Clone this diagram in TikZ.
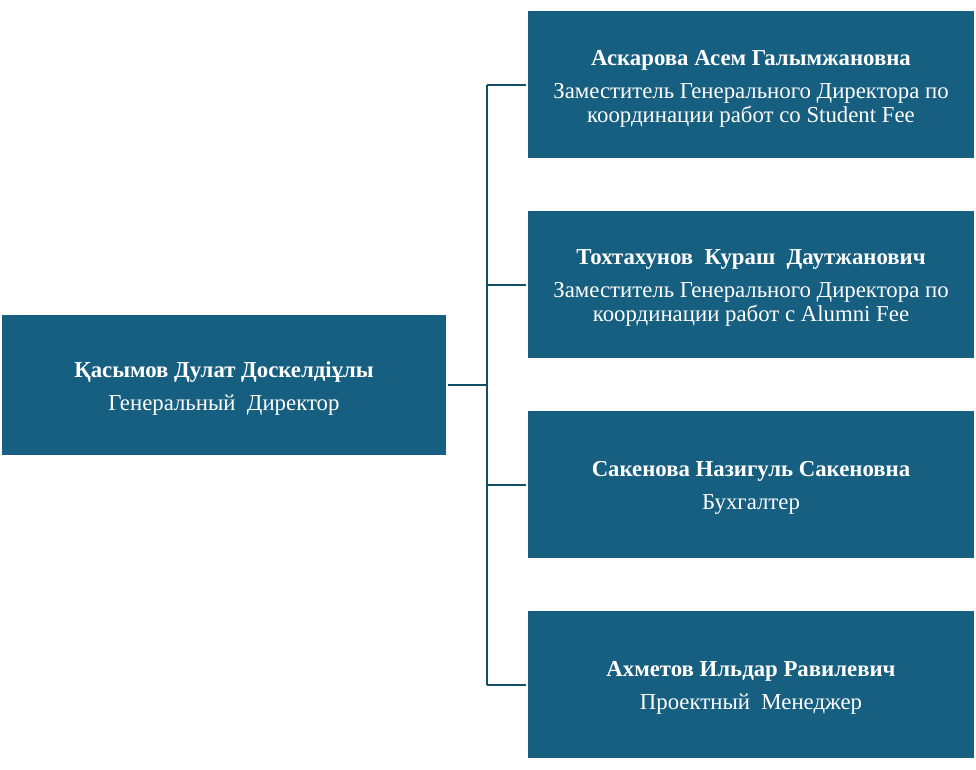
\documentclass[tikz,border=0pt]{standalone}
\usepackage{fontspec}
\setmainfont{Liberation Serif}
\definecolor{boxfill}{HTML}{175F80}
\definecolor{linec}{HTML}{134E68}
\begin{document}
\begin{tikzpicture}[x=1pt,y=-1pt,
  orgbox/.style={fill=boxfill, inner sep=0pt},
  boxtext/.style={text=white, align=center, inner sep=0pt,
    font=\fontsize{22.8}{24}\selectfont},
  leftbox/.style={orgbox, minimum width=444pt, minimum height=140pt},
  rightbox/.style={orgbox, minimum width=446pt, minimum height=147pt},
  conn/.style={draw=linec, line width=2pt}]
\useasboundingbox (0,0) rectangle (976,770);
\node[leftbox] (gd) at (224,385) {};
\node[rightbox] (r1) at (751,85) {};
\node[rightbox] (r2) at (751,284.5) {};
\node[rightbox] (r3) at (751,484.5) {};
\node[rightbox] (r4) at (751,684.5) {};
\node[boxtext] (gdt) at ([yshift=-3.5pt]gd.center) {\textbf{Қасымов Дулат Доскелдіұлы}\\[9pt]Генеральный\ \ Директор};
\node[boxtext] (r1t) at ([yshift=-3.5pt]r1.center) {\textbf{Аскарова Асем Галымжановна}\\[9pt]Заместитель Генерального Директора по\\координации работ со Student Fee};
\node[boxtext] (r2t) at ([yshift=-3.5pt]r2.center) {\textbf{Тохтахунов\ \ Кураш\ \ Даутжанович}\\[9pt]Заместитель Генерального Директора по\\координации работ с Alumni Fee};
\node[boxtext] (r3t) at ([yshift=-3.5pt]r3.center) {\textbf{Сакенова Назигуль Сакеновна}\\[9pt]Бухгалтер};
\node[boxtext] (r4t) at ([yshift=-3.5pt]r4.center) {\textbf{Ахметов Ильдар Равилевич}\\[9pt]Проектный\ \ Менеджер};
\coordinate (j) at (487,385);
\draw[conn] ([xshift=2pt]gd.east) -- (j);
\draw[conn] (j |- r1.west) -- (j |- r4.west);
\foreach \r in {r1,r2,r3,r4} \draw[conn] (j |- \r.west) -- ([xshift=-2pt]\r.west);
\end{tikzpicture}
\end{document}
